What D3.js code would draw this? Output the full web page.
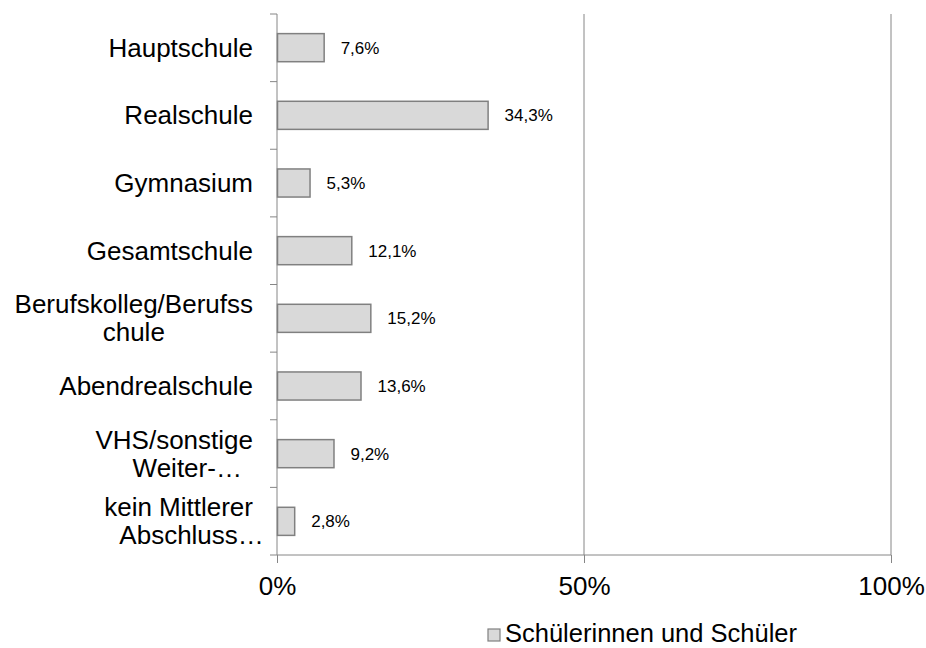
<!DOCTYPE html>
<html>
<head>
<meta charset="utf-8">
<script src="https://cdn.jsdelivr.net/npm/d3@7"></script>
<style>
  body { margin: 0; background: #fff; }
  text { font-family: "Liberation Sans", Arial, sans-serif; fill: #000; }
</style>
</head>
<body>
<svg id="chart" width="926" height="648"></svg>
<script>
// data
const categories = ["Hauptschule", "Realschule", "Gymnasium", "Gesamtschule",
  "Berufskolleg/Berufsschule", "Abendrealschule", "VHS/sonstige Weiter-…", "kein Mittlerer Abschluss…"]
// tick labels as drawn (wrapped)
const categoryLines = [
  ["Hauptschule"], ["Realschule"], ["Gymnasium"], ["Gesamtschule"],
  ["Berufskolleg/Berufss", "chule"], ["Abendrealschule"],
  ["VHS/sonstige", "Weiter-…"], ["kein Mittlerer", "Abschluss…"]
]
const values = [7.6, 34.3, 5.3, 12.1, 15.2, 13.6, 9.2, 2.8]
const xTicks = [0, 50, 100]
const seriesName = "Schülerinnen und Schüler"

const plot = { left: 277, right: 891, top: 14, bottom: 555 }
const axisColor = "#868686"
const bigFont = 26

const svg = d3.select("#chart")

const x = d3.scaleLinear().domain([0, 100]).range([plot.left, plot.right])
const y = d3.scaleBand().domain(categories).range([plot.top, plot.bottom]).paddingInner(0.585).paddingOuter(0.29)
const bandStep = (plot.bottom - plot.top) / categories.length

// gridlines
svg.append("g")
  .selectAll("line")
  .data(xTicks.filter(d => d > 0))
  .join("line")
  .attr("x1", d => x(d)).attr("x2", d => x(d))
  .attr("y1", plot.top).attr("y2", plot.bottom)
  .attr("stroke", axisColor).attr("stroke-width", 1)

// bottom axis
const xAxis = svg.append("g")
  .attr("transform", `translate(0,${plot.bottom})`)
  .call(d3.axisBottom(x).tickValues(xTicks).tickFormat(d => d + "%").tickSizeInner(8).tickSizeOuter(0).tickPadding(14))
xAxis.select(".domain").remove()
xAxis.selectAll(".tick line").attr("stroke", axisColor)
xAxis.selectAll(".tick text").style("font-size", bigFont + "px").attr("fill", "#000")
xAxis.append("line")
  .attr("x1", plot.left - 7).attr("x2", plot.right)
  .attr("stroke", axisColor)

// left axis: line plus ticks at band boundaries
svg.append("line")
  .attr("x1", plot.left).attr("x2", plot.left)
  .attr("y1", plot.top).attr("y2", plot.bottom)
  .attr("stroke", axisColor)
svg.append("g")
  .selectAll("line")
  .data(d3.range(categories.length))
  .join("line")
  .attr("x1", plot.left - 7).attr("x2", plot.left)
  .attr("y1", i => plot.top + i * bandStep).attr("y2", i => plot.top + i * bandStep)
  .attr("stroke", axisColor)

// bars
svg.append("g")
  .selectAll("rect")
  .data(values)
  .join("rect")
  .attr("x", x(0) + 0.5)
  .attr("y", (d, i) => y(categories[i]))
  .attr("width", d => x(d) - x(0))
  .attr("height", y.bandwidth())
  .attr("fill", "#d9d9d9")
  .attr("stroke", "#808080")
  .attr("stroke-width", 1.5)

// value labels
svg.append("g")
  .selectAll("text")
  .data(values)
  .join("text")
  .attr("x", d => x(d) + 17)
  .attr("y", (d, i) => y(categories[i]) + y.bandwidth() / 2)
  .attr("dy", "0.35em")
  .style("font-size", "17px")
  .text(d => d.toFixed(1).replace(".", ",") + "%")

// category labels: lines centred on each other (ellipsis not counted), right edge at 253
const labelG = svg.append("g")
const measure = svg.append("text").style("font-size", bigFont + "px")
const textW = s => { measure.text(s); return measure.node().getComputedTextLength() }
categoryLines.forEach((lines, i) => {
  const cy = y(categories[i]) + y.bandwidth() / 2
  const lh = 28
  const widths = lines.map(ln => textW(ln.replace(/…$/, "")))
  const maxW = d3.max(widths)
  const cx = 253 - maxW / 2
  lines.forEach((ln, j) => {
    labelG.append("text")
      .style("font-size", bigFont + "px")
      .attr("x", cx - widths[j] / 2)
      .attr("y", cy + (j - (lines.length - 1) / 2) * lh)
      .attr("dy", "0.35em")
      .text(ln)
  })
})
measure.remove()

// legend
const legend = svg.append("g").attr("transform", "translate(488,629)")
legend.append("rect")
  .attr("width", 12).attr("height", 12)
  .attr("fill", "#d9d9d9").attr("stroke", "#808080").attr("stroke-width", 1.2)
legend.append("text")
  .attr("x", 17).attr("y", 13)
  .style("font-size", "25.5px")
  .text(seriesName)
</script>
</body>
</html>
